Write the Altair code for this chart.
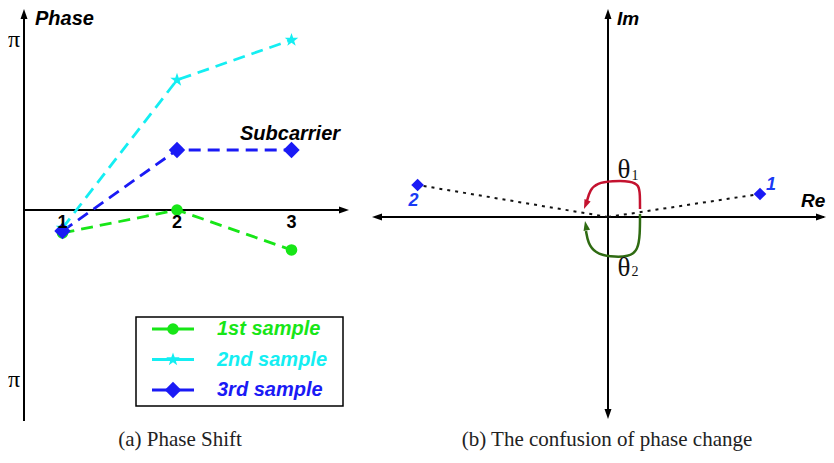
import altair as alt
import pandas as pd

# ---------------- data ----------------
subcarriers = [1, 2, 3]
series_names = ["1st sample", "2nd sample", "3rd sample"]
phase_1st = [-0.135, 0.0, -0.235]      # phase in units of pi
phase_2nd = [-0.106, 0.765, 1.0]
phase_3rd = [-0.124, 0.353, 0.353]
phase_ticks = [1.0, -1.0]
phase_tick_labels = ["π", "π"]

point_labels = ["1", "2"]
point_re = [0.95, -1.19]
point_im = [0.144, 0.2]

# ---------------- styles ----------------
series_colors = ["#17e617", "#14eef2", "#1a1af5"]
STAR = ("M0,-1L0.235,-0.324L0.951,-0.309L0.380,0.124L0.588,0.809L0,0.4"
        "L-0.588,0.809L-0.380,0.124L-0.951,-0.309L-0.235,-0.324Z")
series_shapes = ["circle", STAR, "diamond"]
series_sizes = [135, 270, 160]
ARROW = "M0,0L0.7,2L-0.7,2Z"
SANS = "Liberation Sans"
SERIF = "Liberation Serif"

LEFT_W, RIGHT_W, H = 352, 466, 455

# layout helpers (reference-pixel -> data units of each panel)
def lx(p): return 2 + (p - 177) / 114.5
def ly(p): return (210 - p) / 170
def rx(p): return (p - 608) / 160
def ry(p): return (217 - p) / 160

LXD = [lx(8), lx(360)]
LYD = [ly(463), ly(8)]
RXD = [rx(360), rx(826)]
RYD = [ry(463), ry(8)]


def xe(f, d):
    return alt.X(f, type="quantitative", scale=alt.Scale(domain=d, nice=False, zero=False), axis=None)


def ye(f, d):
    return alt.Y(f, type="quantitative", scale=alt.Scale(domain=d, nice=False, zero=False), axis=None)


def segs(rows, dx, dy, **kw):
    df = pd.DataFrame(rows, columns=["x0", "y0", "x1", "y1"])
    return alt.Chart(df).mark_rule(**kw).encode(
        x=xe("x0", dx), y=ye("y0", dy), x2=alt.X2("x1"), y2=alt.Y2("y1"))


def heads(rows, dx, dy, color, size=100, clip=False):
    df = pd.DataFrame(rows, columns=["x", "y", "ang"])
    return alt.Chart(df).mark_point(shape=ARROW, filled=True, opacity=1, size=size,
                                    color=color, strokeWidth=0, clip=clip).encode(
        x=xe("x", dx), y=ye("y", dy), angle=alt.Angle("ang:Q", scale=None))


def texts(rows, dx, dy, **kw):
    df = pd.DataFrame(rows, columns=["x", "y", "t"])
    return alt.Chart(df).mark_text(**kw).encode(x=xe("x", dx), y=ye("y", dy), text="t:N")


color_enc = alt.Color("series:N", scale=alt.Scale(domain=series_names, range=series_colors), legend=None)
shape_enc = alt.Shape("series:N", scale=alt.Scale(domain=series_names, range=series_shapes), legend=None)
size_enc = alt.Size("series:O", scale=alt.Scale(domain=series_names, range=series_sizes), legend=None)

# ---------------- left panel ----------------
rows = []
for name, vals in zip(series_names, [phase_1st, phase_2nd, phase_3rd]):
    for s, v in zip(subcarriers, vals):
        rows.append({"series": name, "sub": s, "phase": v})
phase_df = pd.DataFrame(rows)

left_axes = segs([(lx(24), ly(421), lx(24), ly(16)),
                  (lx(24), ly(210), lx(342), ly(210))], LXD, LYD,
                 color="black", strokeWidth=2)
left_heads = heads([(lx(24), ly(9), 0), (lx(349), ly(210), 90)], LXD, LYD, "black")

lines = alt.Chart(phase_df).mark_line(strokeDash=[12, 7], strokeWidth=2.8).encode(
    x=xe("sub", LXD), y=ye("phase", LYD), color=color_enc, detail="series:N")
points = alt.Chart(phase_df).mark_point(filled=True, opacity=1).encode(
    x=xe("sub", LXD), y=ye("phase", LYD), color=color_enc, shape=shape_enc, size=size_enc)

tick_df = pd.DataFrame({"sub": subcarriers, "t": [str(s) for s in subcarriers]})
tick_df["y"] = ly(223)
ticks = alt.Chart(tick_df).mark_text(font=SANS, fontSize=18, fontWeight="bold", color="black").encode(
    x=xe("sub", LXD), y=ye("y", LYD), text="t:N")

pi_df = pd.DataFrame({"phase": phase_ticks, "t": phase_tick_labels})
pi_df["x"] = lx(8)
pi_labels = alt.Chart(pi_df).mark_text(font=SERIF, fontSize=24, align="left", color="black").encode(
    x=xe("x", LXD), y=ye("phase", LYD), text="t:N")

left_titles = texts([(lx(35), ly(19), "Phase")], LXD, LYD, font=SANS, fontSize=20,
                    fontWeight="bold", fontStyle="italic", align="left", baseline="middle")
sub_title = texts([(lx(240), ly(134), "Subcarrier")], LXD, LYD, font=SANS, fontSize=20,
                  fontWeight="bold", fontStyle="italic", align="left", baseline="middle")
cap_a = texts([(lx(180), ly(440), "(a) Phase Shift")], LXD, LYD, font=SERIF, fontSize=21,
              color="#222222", align="center", baseline="middle")

# legend (drawn inside the panel)
box_df = pd.DataFrame([{"x0": lx(136), "x1": lx(343), "y0": ly(317), "y1": ly(406)}])
leg_box = alt.Chart(box_df).mark_rect(fill="white", stroke="black", strokeWidth=1.5).encode(
    x=xe("x0", LXD), x2=alt.X2("x1"), y=ye("y0", LYD), y2=alt.Y2("y1"))
leg_df = pd.DataFrame({"series": series_names,
                       "y": [ly(329 + 30.5 * i) for i in range(len(series_names))]})
leg_df["xa"] = lx(152)
leg_df["xb"] = lx(194)
leg_df["xs"] = lx(173)
leg_df["xt"] = lx(217)
leg_lines = alt.Chart(leg_df).mark_rule(strokeWidth=3).encode(
    x=xe("xa", LXD), x2=alt.X2("xb"), y=ye("y", LYD), color=color_enc)
leg_pts = alt.Chart(leg_df).mark_point(filled=True, opacity=1).encode(
    x=xe("xs", LXD), y=ye("y", LYD), color=color_enc, shape=shape_enc, size=size_enc)
leg_txt = alt.Chart(leg_df).mark_text(font=SANS, fontSize=20, fontWeight="bold", fontStyle="italic",
                                      align="left", baseline="middle").encode(
    x=xe("xt", LXD), y=ye("y", LYD), color=color_enc, text="series:N")

left = alt.layer(left_axes, left_heads, lines, points, ticks, pi_labels, left_titles, sub_title,
                 cap_a, leg_box, leg_lines, leg_pts, leg_txt).properties(width=LEFT_W, height=H)

# ---------------- right panel ----------------
right_axes = segs([(rx(375), ry(217), rx(824), ry(217)),
                   (rx(608), ry(12), rx(608), ry(414))], RXD, RYD,
                  color="black", strokeWidth=2, clip=True)
right_heads = heads([(rx(608), ry(9), 0), (rx(608), ry(419), 180),
                     (rx(372), ry(217), 270), (rx(826), ry(217), 90)], RXD, RYD, "black", clip=True)

pt_df = pd.DataFrame({"label": point_labels, "re": point_re, "im": point_im})
pt_df["x0"] = 0.0
pt_df["y0"] = 0.0
dotted = alt.Chart(pt_df).mark_rule(strokeDash=[3, 5], strokeWidth=2, color="#111111").encode(
    x=xe("x0", RXD), y=ye("y0", RYD), x2=alt.X2("re"), y2=alt.Y2("im"))
diamonds = alt.Chart(pt_df).mark_point(shape="diamond", filled=True, opacity=1, size=160,
                                       color="#1a1af5").encode(x=xe("re", RXD), y=ye("im", RYD))
lab1 = alt.Chart(pt_df).transform_filter(alt.datum.label == "1").mark_text(
    font=SANS, fontSize=18, fontWeight="bold", fontStyle="italic", color="#1a3af5", dx=11, dy=-9).encode(
    x=xe("re", RXD), y=ye("im", RYD), text="label:N")
lab2 = alt.Chart(pt_df).transform_filter(alt.datum.label == "2").mark_text(
    font=SANS, fontSize=18, fontWeight="bold", fontStyle="italic", color="#1a3af5", dx=-4, dy=16).encode(
    x=xe("re", RXD), y=ye("im", RYD), text="label:N")


def arc(pts, color):
    df = pd.DataFrame([{"x": rx(a), "y": ry(b), "i": k} for k, (a, b) in enumerate(pts)])
    return alt.Chart(df).mark_line(interpolate="basis", strokeWidth=2.5, color=color).encode(
        x=xe("x", RXD), y=ye("y", RYD), order="i:Q")


RED, GREEN = "#c4122f", "#2f6b12"
red_arc = arc([(640, 209), (640, 195), (639, 185), (631, 181), (612, 181), (597, 183),
               (590, 190), (587, 201)], RED)
green_arc = arc([(640, 214), (640, 234), (638, 250), (629, 257), (610, 257), (595, 253),
                 (588, 243), (586, 231)], GREEN)
red_head = heads([(rx(584), ry(209), 202)], RXD, RYD, RED, size=90)
green_head = heads([(rx(585), ry(221), 349)], RXD, RYD, GREEN, size=90)

thetas = texts([(rx(624), ry(170), "θ"), (rx(624), ry(268), "θ")], RXD, RYD,
               font=SERIF, fontSize=27, color="#111111", align="center", baseline="middle")
subs = texts([(rx(635), ry(176), "1"), (rx(635), ry(272), "2")], RXD, RYD,
             font=SERIF, fontSize=14, color="#111111", align="center", baseline="middle")
re_lab = texts([(rx(801), ry(201), "Re")], RXD, RYD, font=SANS, fontSize=19, fontWeight="bold",
               fontStyle="italic", align="left", baseline="middle", clip=True)
im_lab = texts([(rx(617), ry(19), "Im")], RXD, RYD, font=SANS, fontSize=19, fontWeight="bold",
               fontStyle="italic", align="left", baseline="middle")
cap_b = texts([(rx(607), ry(440), "(b) The confusion of phase change")], RXD, RYD, font=SERIF,
              fontSize=21, color="#222222", align="center", baseline="middle")

right = alt.layer(right_axes, right_heads, dotted, diamonds, lab1, lab2, red_arc, green_arc,
                  red_head, green_head, thetas, subs, re_lab, im_lab, cap_b).properties(
    width=RIGHT_W, height=H)

chart = alt.hconcat(left, right, spacing=0, padding=0, bounds="flush").configure_view(stroke=None)
chart.save("out.html", embed_options={"renderer": "svg", "actions": False})
